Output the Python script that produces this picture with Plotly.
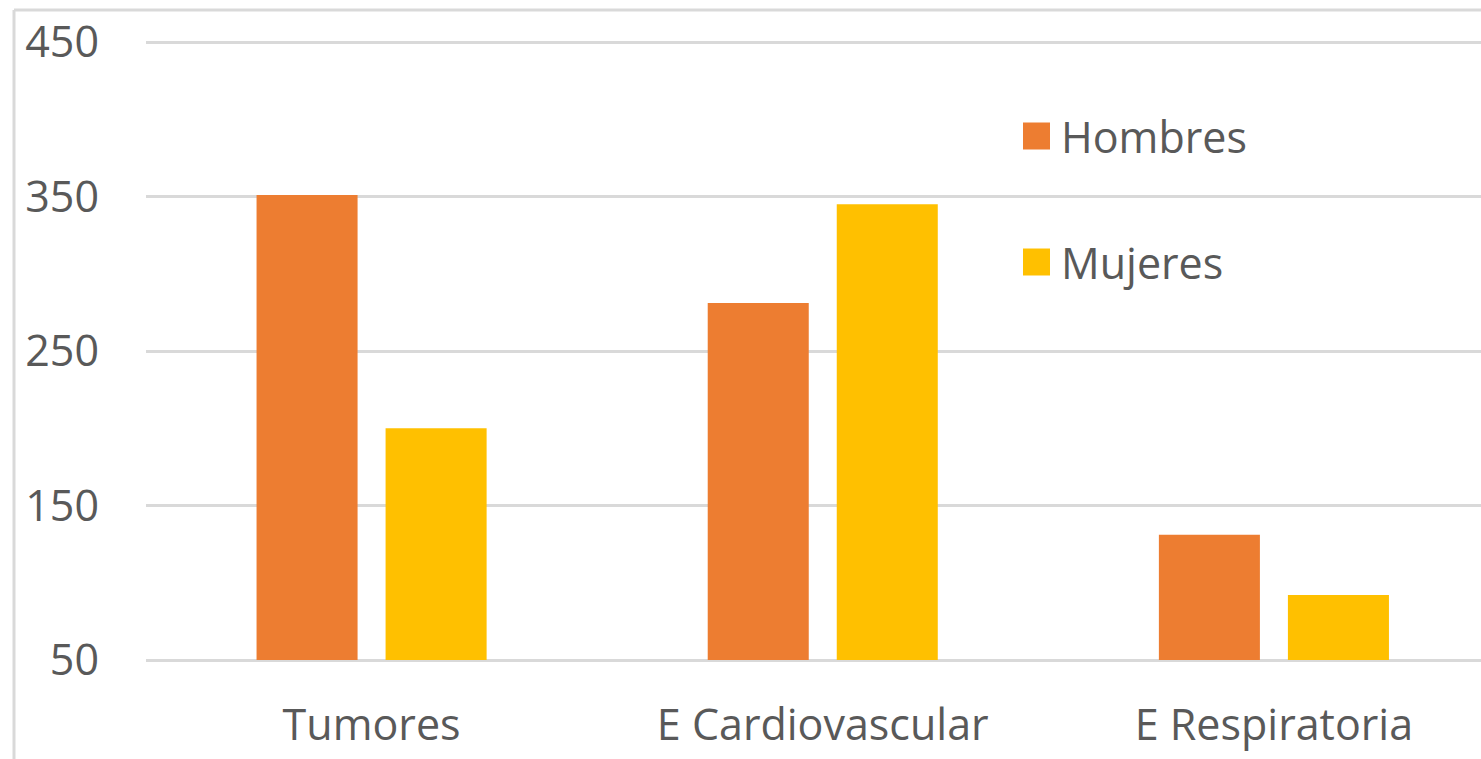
import plotly.graph_objects as go

# Data
categories = ["Tumores", "E Cardiovascular", "E Respiratoria"]
hombres = [351, 281, 131]
mujeres = [200, 345, 92]
series_names = ["Hombres", "Mujeres"]
series_colors = ["#ED7D31", "#FFC000"]
y_ticks = [50, 150, 250, 350, 450]
axis_min, axis_max = 50, 450

# Canvas / plot-area geometry (pixels)
W, H = 1481, 759
ML, MR, MT, MB = 146, 0, 40, 97
PW, PH = W - ML - MR, H - MT - MB
Y_TOP_PX, Y_BOT_PX = 42, 660          # pixel rows of axis_max / axis_min gridlines
units_per_px = (axis_max - axis_min) / (Y_BOT_PX - Y_TOP_PX)
y_range = [axis_min - (H - MB - Y_BOT_PX) * units_per_px,
           axis_max + (Y_TOP_PX - MT) * units_per_px]

def px_x(x):
    return (x - ML) / PW

def px_y(y):
    return (H - MB - y) / PH

TEXT = "#595959"
GRID = "#D9D9D9"
FONT = "Open Sans"
FS = 43

fig = go.Figure()
for name, vals, col in zip(series_names, [hombres, mujeres], series_colors):
    # bars rise from the axis minimum, as in the original chart
    fig.add_trace(go.Bar(x=categories, y=[v - axis_min for v in vals],
                         base=axis_min, name=name, marker_color=col,
                         marker_line_width=0, showlegend=False,
                         customdata=vals,
                         hovertemplate="%{x}<br>" + name + ": %{customdata}<extra></extra>"))

fig.update_layout(
    width=W, height=H,
    margin=dict(l=ML, r=MR, t=MT, b=MB),
    paper_bgcolor="white", plot_bgcolor="white",
    barmode="group", bargap=0.428, bargroupgap=0.217,
    font=dict(family=FONT, color=TEXT, size=FS),
)
fig.update_xaxes(range=[-0.5, 2.459], showgrid=False, zeroline=False,
                 showline=False, ticks="", ticklabelstandoff=34,
                 tickfont=dict(size=FS, color=TEXT, family=FONT))
fig.update_yaxes(range=y_range, tickvals=y_ticks, showgrid=True,
                 gridcolor=GRID, gridwidth=2.5, zeroline=False, showline=False,
                 ticks="", ticklabelstandoff=46,
                 tickfont=dict(size=FS, color=TEXT, family=FONT))

# Chart frame (left and top edges)
frame = dict(type="line", xref="paper", yref="paper",
             line=dict(color=GRID, width=3), layer="below")
fig.add_shape(x0=px_x(14), x1=px_x(14), y0=px_y(10), y1=px_y(800), **frame)
fig.add_shape(x0=px_x(14), x1=px_x(1520), y0=px_y(10), y1=px_y(10), **frame)

# Legend: square swatches with labels
leg_rows = [136, 262]
for name, col, yc in zip(series_names, series_colors, leg_rows):
    fig.add_shape(type="rect", xref="paper", yref="paper",
                  x0=px_x(1023), x1=px_x(1050),
                  y0=px_y(yc - 13.5), y1=px_y(yc + 13.5),
                  fillcolor=col, line_width=0)
    fig.add_annotation(text=name, xref="paper", yref="paper",
                       x=px_x(1059), y=px_y(yc), xanchor="left",
                       yanchor="middle", showarrow=False,
                       font=dict(size=FS, color=TEXT, family=FONT))

fig.write_html("out.html")
